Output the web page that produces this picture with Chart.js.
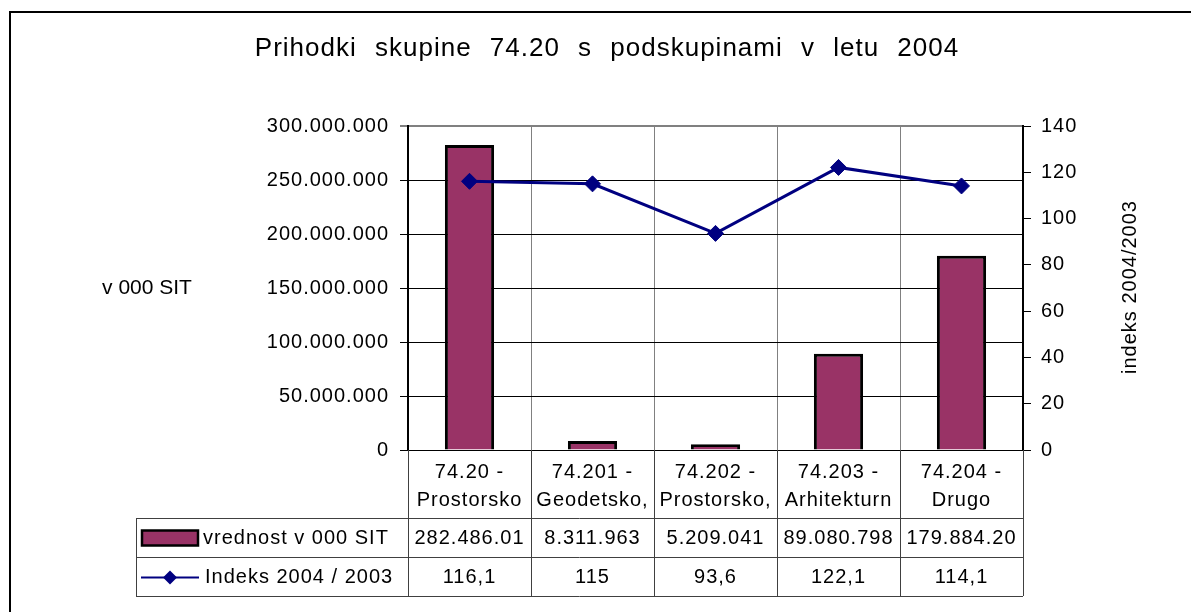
<!DOCTYPE html>
<html>
<head>
<meta charset="utf-8">
<script src="https://cdn.jsdelivr.net/npm/chart.js@4.4.1/dist/chart.umd.min.js"></script>
<style>
  body { margin: 0; background: #fff; overflow: hidden; width: 1191px; height: 612px; position: relative; }
  #frame { position: absolute; left: 9px; top: 11px; width: 1200px; height: 700px; border-left: 2px solid #000; border-top: 2px solid #000; }
  #chart { position: absolute; left: 0; top: 0; }
</style>
</head>
<body>
<div id="frame"></div>
<canvas id="chart" width="1191" height="612"></canvas>
<script>
// Data
const categories = [
    ['74.20 -', 'Prostorsko'],
    ['74.201 -', 'Geodetsko,'],
    ['74.202 -', 'Prostorsko,'],
    ['74.203 -', 'Arhitekturn'],
    ['74.204 -', 'Drugo']
];
const vrednost = [282486010, 8311963, 5209041, 89080798, 179884200];
const indeks = [116.1, 115, 93.6, 122.1, 114.1];

const chartTitle = 'Prihodki skupine 74.20 s podskupinami v letu 2004';
const barLabel = 'vrednost v 000 SIT';
const lineLabel = 'Indeks 2004 / 2003';
const leftTitle = 'v 000 SIT';
const rightTitle = 'indeks 2004/2003';

const FONT = '"Liberation Sans", Arial, sans-serif';
const BAR_COLOR = '#993366';
const LINE_COLOR = '#000080';

Chart.defaults.font.family = FONT;
Chart.defaults.color = '#000';

// 300000000 -> 300.000.000
function formatThousands(v) {
    return String(Math.round(v)).replace(/\B(?=(\d{3})+(?!\d))/g, '.');
}
// 116.1 -> 116,1
function formatIndex(v) {
    return String(v).replace('.', ',');
}

function drawDiamond(ctx, x, y, r) {
    ctx.beginPath();
    ctx.moveTo(x - r, y);
    ctx.lineTo(x, y - r);
    ctx.lineTo(x + r, y);
    ctx.lineTo(x, y + r);
    ctx.closePath();
    ctx.fill();
}

// Excel style title, axis titles and data table under the plot
const excelExtras = {
    id: 'excelExtras',
    beforeDraw(chart) {
        chart.ctx.letterSpacing = '1px';
    },
    afterDraw(chart) {
        const { ctx, chartArea, scales } = chart;
        const xs = scales.x;
        const n = categories.length;
        const colW = (xs.right - xs.left) / n;
        const top = chartArea.bottom;
        const r1 = top + 68, r2 = r1 + 39, r3 = r2 + 39;
        const tableLeft = 136;

        ctx.save();

        // title
        ctx.fillStyle = '#000';
        ctx.font = '26px ' + FONT;
        ctx.textAlign = 'center';
        ctx.textBaseline = 'middle';
        ctx.letterSpacing = '1px';
        ctx.wordSpacing = '10px';
        ctx.fillText(chartTitle, 607, 49);
        ctx.wordSpacing = '0px';

        // axis titles
        ctx.font = '21px ' + FONT;
        ctx.letterSpacing = '0px';
        ctx.fillText(leftTitle, 147, 288);
        ctx.save();
        ctx.translate(1130, 287);
        ctx.rotate(-Math.PI / 2);
        ctx.font = '20px ' + FONT;
        ctx.letterSpacing = '1px';
        ctx.fillText(rightTitle, 0, 0);
        ctx.restore();

        // table lines
        ctx.strokeStyle = '#404040';
        ctx.lineWidth = 1;
        ctx.beginPath();
        for (let i = 0; i <= n; i++) {
            const px = Math.round(xs.left + i * colW) + 0.5;
            ctx.moveTo(px, top);
            ctx.lineTo(px, r3);
        }
        [r1, r2, r3].forEach(y => {
            ctx.moveTo(tableLeft, y + 0.5);
            ctx.lineTo(xs.right, y + 0.5);
        });
        ctx.moveTo(tableLeft + 0.5, r1);
        ctx.lineTo(tableLeft + 0.5, r3);
        ctx.stroke();

        // cell values
        ctx.font = '20px ' + FONT;
        ctx.letterSpacing = '1px';
        ctx.textAlign = 'center';
        const y1 = (r1 + r2) / 2 + 1, y2 = (r2 + r3) / 2 + 1;
        for (let i = 0; i < n; i++) {
            const cx = xs.getPixelForValue(i);
            let txt = formatThousands(vrednost[i]);
            // Excel cuts text that does not fit its cell
            while (ctx.measureText(txt).width > colW - 6) txt = txt.slice(0, -1);
            ctx.fillText(txt, cx, y1);
            ctx.fillText(formatIndex(indeks[i]), cx, y2);
        }

        // legend keys
        ctx.fillStyle = BAR_COLOR;
        ctx.fillRect(142, y1 - 8, 56, 15);
        ctx.strokeStyle = '#000';
        ctx.lineWidth = 2.5;
        ctx.strokeRect(142, y1 - 8, 56, 15);

        ctx.strokeStyle = LINE_COLOR;
        ctx.lineWidth = 2;
        ctx.beginPath();
        ctx.moveTo(141, y2);
        ctx.lineTo(199, y2);
        ctx.stroke();
        ctx.fillStyle = LINE_COLOR;
        drawDiamond(ctx, 170, y2, 7);

        ctx.fillStyle = '#000';
        ctx.textAlign = 'left';
        ctx.fillText(barLabel, 203, y1);
        ctx.fillText(lineLabel, 205, y2);

        ctx.restore();
    }
};

const ctx = document.getElementById('chart').getContext('2d');

const chart = new Chart(ctx, {
    data: {
        labels: categories,
        datasets: [
            {
                type: 'line',
                label: lineLabel,
                data: indeks,
                yAxisID: 'y1',
                borderColor: LINE_COLOR,
                borderWidth: 3,
                pointStyle: 'rectRot',
                pointRadius: 8,
                pointBackgroundColor: LINE_COLOR,
                pointBorderColor: LINE_COLOR,
                pointBorderWidth: 1,
                tension: 0,
                order: 1
            },
            {
                type: 'bar',
                label: barLabel,
                data: vrednost,
                yAxisID: 'y',
                backgroundColor: BAR_COLOR,
                borderColor: '#000',
                borderWidth: 3,
                barPercentage: 0.4,
                categoryPercentage: 1,
                order: 2
            }
        ]
    },
    options: {
        responsive: false,
        devicePixelRatio: 1,
        animation: false,
        layout: { padding: { top: 126, left: 0, right: 0, bottom: 0 } },
        plugins: {
            legend: { display: false },
            tooltip: { enabled: false },
            title: { display: false }
        },
        scales: {
            x: {
                grid: { offset: true, color: '#808080', drawTicks: false, lineWidth: 1 },
                border: { color: '#000', width: 1 },
                ticks: {
                    color: '#000',
                    font: { size: 20, lineHeight: 1.4 },
                    padding: 8,
                    maxRotation: 0,
                    autoSkip: false
                },
                afterFit(scale) { scale.height = 162; }
            },
            y: {
                position: 'left',
                min: 0,
                max: 300000000,
                ticks: {
                    stepSize: 50000000,
                    color: '#000',
                    font: { size: 20 },
                    padding: 11,
                    callback: v => formatThousands(v)
                },
                grid: {
                    tickLength: 8,
                    color: c => (c.tick && c.tick.value === 300000000) ? '#808080' : '#000',
                    lineWidth: c => (c.tick && c.tick.value === 300000000) ? 2 : 1
                },
                border: { color: '#000', width: 2 },
                afterFit(scale) { scale.width = 408; }
            },
            y1: {
                position: 'right',
                min: 0,
                max: 140,
                ticks: {
                    stepSize: 20,
                    color: '#000',
                    font: { size: 20 },
                    padding: 10
                },
                grid: { drawOnChartArea: false, tickLength: 8, color: '#000' },
                border: { color: '#000', width: 2 },
                afterFit(scale) { scale.width = 168; }
            }
        }
    },
    plugins: [excelExtras]
});
</script>
</body>
</html>
